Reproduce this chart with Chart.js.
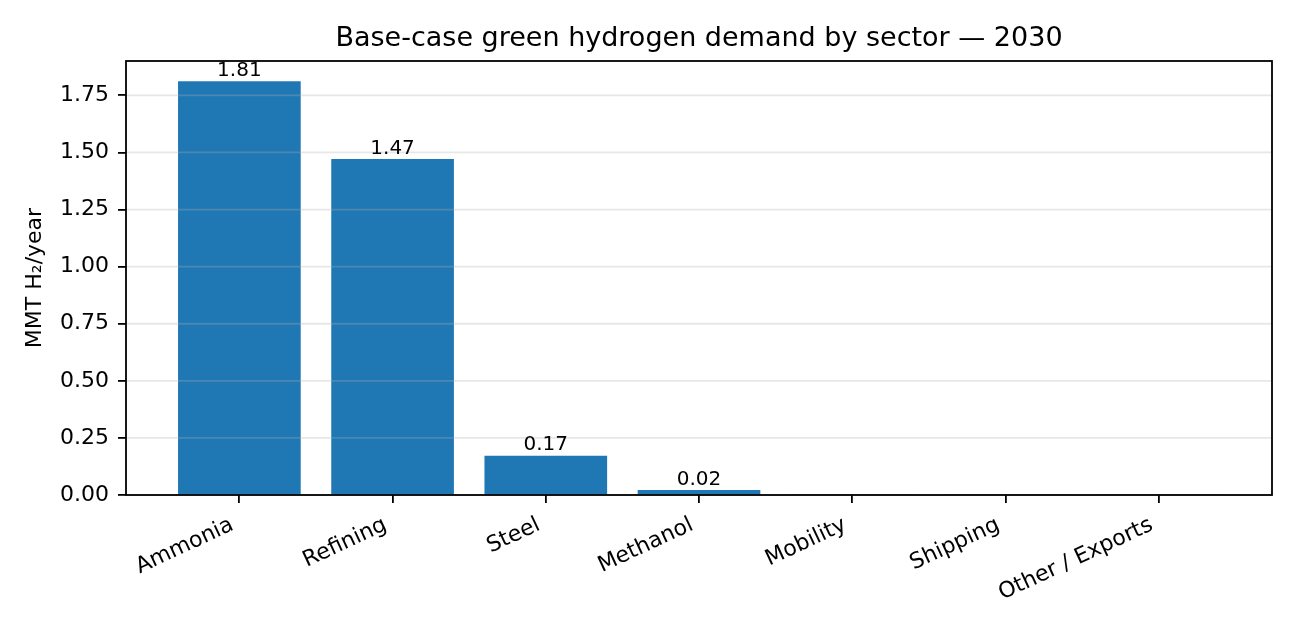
<!DOCTYPE html>
<html>
<head>
<meta charset="utf-8">
<script src="https://cdn.jsdelivr.net/npm/chart.js@4"></script>
<style>
  body { margin: 0; background: #fff; }
  canvas { display: block; }
</style>
</head>
<body>
<canvas id="chart" width="1296" height="630"></canvas>
<script>
// data
const sectors = ["Ammonia", "Refining", "Steel", "Methanol", "Mobility", "Shipping", "Other / Exports"];
const demand = [1.81, 1.47, 0.17, 0.02, 0, 0, 0];
const yTicks = [0, 0.25, 0.5, 0.75, 1.0, 1.25, 1.5, 1.75];

const FONT = "'DejaVu Sans', sans-serif";

// grid over bars, box around plot, title, y label, value labels
const decor = {
  id: "decor",
  afterDatasetsDraw(chart) {
    const { ctx, chartArea: a, scales } = chart;
    ctx.save();
    ctx.strokeStyle = "rgba(176,176,176,0.3)";
    ctx.lineWidth = 1.8;
    yTicks.forEach((t) => {
      const y = scales.y.getPixelForValue(t);
      ctx.beginPath();
      ctx.moveTo(a.left, y);
      ctx.lineTo(a.right, y);
      ctx.stroke();
    });

    // bar labels
    ctx.fillStyle = "#000";
    ctx.font = "20px " + FONT;
    ctx.textAlign = "center";
    ctx.textBaseline = "bottom";
    const meta = chart.getDatasetMeta(0);
    meta.data.forEach((bar, i) => {
      if (demand[i] > 0) ctx.fillText(demand[i].toFixed(2), bar.x, bar.y - 1);
    });

    // frame
    ctx.strokeStyle = "#000";
    ctx.lineWidth = 1.8;
    ctx.strokeRect(a.left, a.top, a.right - a.left, a.bottom - a.top);

    // title
    ctx.font = "27px " + FONT;
    ctx.textBaseline = "bottom";
    ctx.fillText("Base-case green hydrogen demand by sector — 2030", (a.left + a.right) / 2, a.top - 9);

    // y label
    ctx.translate(35, (a.top + a.bottom) / 2);
    ctx.rotate(-Math.PI / 2);
    ctx.font = "22px " + FONT;
    ctx.textBaseline = "middle";
    ctx.fillText("MMT H₂/year", 0, 0);
    ctx.restore();
  },
};

new Chart(document.getElementById("chart"), {
  type: "bar",
  data: {
    datasets: [
      {
        data: sectors.map((s, i) => ({ x: i, y: demand[i] })),
        backgroundColor: "#1f77b4",
        borderWidth: 0,
        barThickness: 122,
      },
    ],
  },
  options: {
    responsive: false,
    animation: false,
    devicePixelRatio: 1,
    layout: { padding: { top: 61, right: 24, left: 0, bottom: 0 } },
    plugins: { legend: { display: false }, tooltip: { enabled: false } },
    scales: {
      x: {
        type: "linear",
        min: -0.74,
        max: 6.74,
        offset: false,
        afterBuildTicks: (s) => { s.ticks = sectors.map((c, i) => ({ value: i })); },
        afterFit: (s) => { s.height = 135; },
        border: { display: false },
        grid: { offset: false, drawOnChartArea: false, drawTicks: true, tickLength: 8, color: "#000", lineWidth: 1.8 },
        ticks: {
          autoSkip: false,
          minRotation: 25,
          maxRotation: 25,
          padding: 9,
          labelOffset: -7,
          color: "#000",
          font: { family: FONT, size: 22 },
          callback: (v) => sectors[v],
        },
      },
      y: {
        min: 0,
        max: 1.9005,
        afterBuildTicks: (s) => { s.ticks = yTicks.map((v) => ({ value: v })); },
        afterFit: (s) => { s.width = 126; },
        border: { display: false },
        grid: { drawOnChartArea: false, drawTicks: true, tickLength: 8, color: "#000", lineWidth: 1.8 },
        ticks: {
          padding: 9,
          color: "#000",
          font: { family: FONT, size: 22 },
          callback: (v) => v.toFixed(2),
        },
      },
    },
  },
  plugins: [decor],
});
</script>
</body>
</html>
